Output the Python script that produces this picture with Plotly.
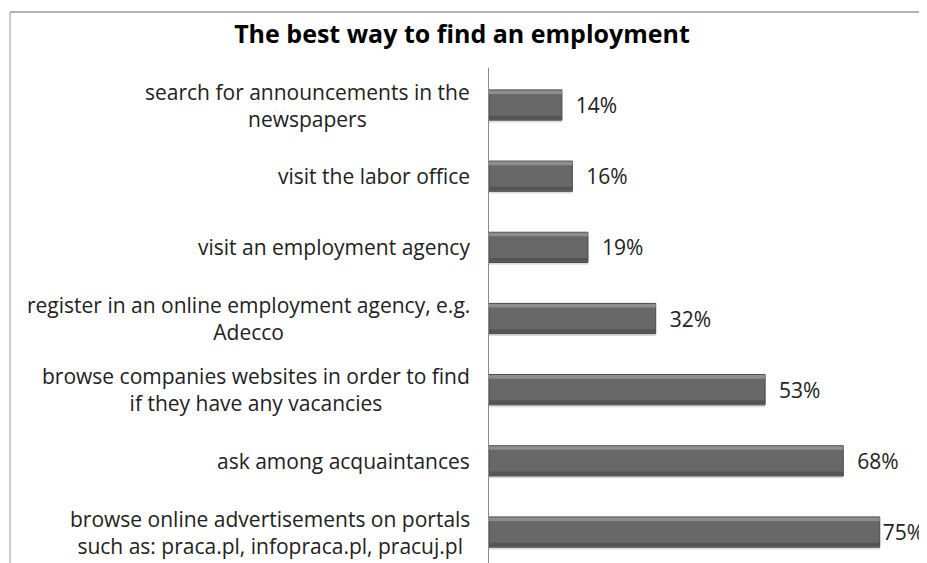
import plotly.graph_objects as go

categories = [
    "browse online advertisements on portals<br>such as: praca.pl, infopraca.pl, pracuj.pl",
    "ask among acquaintances",
    "browse companies websites in order to find<br>if they have any vacancies",
    "register in an online employment agency, e.g.<br>Adecco",
    "visit an employment agency",
    "visit the labor office",
    "search for announcements in the<br>newspapers",
]
values = [75, 68, 53, 32, 19, 16, 14]
value_labels = ["75%", "\u00a0\u00a068%", "\u00a0\u00a053%", "\u00a0\u00a032%",
                "\u00a0\u00a019%", "\u00a0\u00a016%", "\u00a0\u00a014%"]
title_text = "The best way to find an employment"

pos = list(range(len(categories)))
FONT = "Open Sans, Arial, sans-serif"

# page has an 8px body margin: figure is drawn at (8, 8) in the window
OFF = 8
W, H = 927 - OFF, 563 - OFF
left, top = 489 - OFF, 68 - OFF
plot_w = W - left
plot_h = H - top

fig = go.Figure()
# soft shadow below bars
fig.add_trace(go.Bar(
    x=values, y=pos, orientation="h", width=0.03, offset=-0.245,
    marker=dict(color="#dcdcdc", line=dict(width=0)),
    hoverinfo="skip", showlegend=False,
))
# main bar body
fig.add_trace(go.Bar(
    x=values, y=pos, orientation="h", width=0.425,
    marker=dict(color="#686868", line=dict(color="#4a4a4a", width=1)),
    text=value_labels, textposition="outside",
    textfont=dict(family=FONT, size=21, color="#222222"),
    cliponaxis=False, hoverinfo="skip", showlegend=False,
))
# top highlight band
fig.add_trace(go.Bar(
    x=values, y=pos, orientation="h", width=0.05, offset=0.155,
    marker=dict(color="#8e8e8e", line=dict(width=0)),
    hoverinfo="skip", showlegend=False,
))
# lower darker band
fig.add_trace(go.Bar(
    x=values, y=pos, orientation="h", width=0.05, offset=-0.2,
    marker=dict(color="#545454", line=dict(width=0)),
    hoverinfo="skip", showlegend=False,
))

annotations = [
    dict(x=0, xref="paper", y=p, yref="y", text=c, showarrow=False,
         xanchor="right", yanchor="middle", align="center", xshift=-17,
         font=dict(family=FONT, size=21, color="#222222"))
    for p, c in zip(pos, categories)
]

fx = (10 - 489) / plot_w
fy = (563 - 12) / plot_h
fig.update_layout(
    width=W, height=H,
    margin=dict(l=left, r=0, t=top, b=0),
    paper_bgcolor="white", plot_bgcolor="white",
    barmode="overlay",
    title=dict(text=f"<b>{title_text}</b>", x=(462 - OFF) / W, xref="container",
               xanchor="center", y=1 - (34 - OFF) / H, yanchor="middle", yref="container",
               font=dict(family=FONT, size=25, color="#000000")),
    xaxis=dict(range=[0, plot_w / 5.21], visible=False, fixedrange=True),
    yaxis=dict(range=[-0.435, 6.52], showticklabels=False, showgrid=False,
               zeroline=False, showline=True, linecolor="#8a8a8a", linewidth=1,
               ticks="", fixedrange=True),
    annotations=annotations,
    shapes=[
        dict(type="line", xref="paper", yref="paper",
             x0=fx, x1=1.05, y0=fy, y1=fy,
             line=dict(color="#9a9a9a", width=1.5)),
        dict(type="line", xref="paper", yref="paper",
             x0=fx, x1=fx, y0=fy, y1=-0.1,
             line=dict(color="#9a9a9a", width=1)),
    ],
)

fig.write_html("out.html")
